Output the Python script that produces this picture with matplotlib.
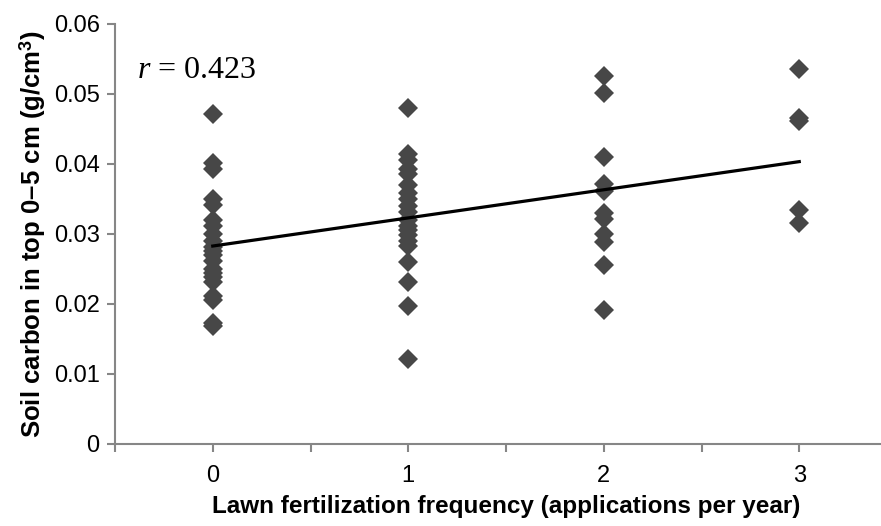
import numpy as np
import matplotlib
matplotlib.use("Agg")
import matplotlib.pyplot as plt

# soil carbon (g/cm3) by fertilization frequency
carbon_0 = [0.0472, 0.0401, 0.0393, 0.0350, 0.0342, 0.0320, 0.0312, 0.0300, 0.0290, 0.0282,
            0.0276, 0.0270, 0.0262, 0.0250, 0.0245, 0.0238, 0.0232, 0.0212, 0.0206, 0.0173, 0.0168]
carbon_1 = [0.0480, 0.0414, 0.0405, 0.0393, 0.0385, 0.0370, 0.0358, 0.0350, 0.0340, 0.0332,
            0.0320, 0.0312, 0.0305, 0.0298, 0.0290, 0.0283, 0.0260, 0.0232, 0.0197, 0.0122]
carbon_2 = [0.0525, 0.0502, 0.0410, 0.0372, 0.0362, 0.0330, 0.0322, 0.0300, 0.0288, 0.0256, 0.0191]
carbon_3 = [0.0535, 0.0466, 0.0462, 0.0334, 0.0316]
frequency = [0, 1, 2, 3]
r_value = 0.423

groups = [carbon_0, carbon_1, carbon_2, carbon_3]
x = np.concatenate([[f] * len(g) for f, g in zip(frequency, groups)])
y = np.concatenate(groups)

plt.rcParams['font.family'] = ['Liberation Sans', 'DejaVu Sans']
plt.rcParams['mathtext.fontset'] = 'custom'
plt.rcParams['mathtext.it'] = 'Liberation Serif:italic'
plt.rcParams['mathtext.rm'] = 'Liberation Serif'

fig = plt.figure(figsize=(8.81, 5.26), dpi=100)
ax = fig.add_axes([115 / 881, 82 / 526, 782 / 881, 420 / 526])

ax.plot(x, y, 'D', color='#474747', markersize=9.8, markeredgewidth=0, zorder=2)

# linear trendline
slope, intercept = np.polyfit(x, y, 1)
xs = np.array([0, 3])
ax.plot(xs, intercept + slope * xs, color='black', linewidth=2.3, zorder=3)

ax.set_xlim(-0.5, 3.5)
ax.set_ylim(0, 0.06)
ax.set_xticks(np.arange(-0.5, 3.6, 0.5))
ax.set_xticklabels(['' if t % 1 else str(int(t)) for t in np.arange(-0.5, 3.6, 0.5)])
ax.set_yticks(np.arange(0, 0.061, 0.01))
ax.set_yticklabels(['0', '0.01', '0.02', '0.03', '0.04', '0.05', '0.06'])

for side in ['top', 'right']:
    ax.spines[side].set_visible(False)
for side in ['left', 'bottom']:
    ax.spines[side].set_color('#868686')
    ax.spines[side].set_linewidth(1.5)
ax.tick_params(axis='both', colors='#868686', width=1.5, length=6, labelsize=17,
               labelcolor='black', direction='out')
ax.tick_params(axis='x', pad=9)
ax.tick_params(axis='y', pad=5)

ax.set_xlabel('Lawn fertilization frequency (applications per year)', fontsize=17.5,
              fontweight='bold', labelpad=6)
ax.set_ylabel('Soil carbon in top 0–5 cm (g/cm$^\\mathregular{3}$)', fontsize=18.5,
              fontweight='bold', labelpad=4)

ax.text(0.028, 0.89, '$r$ = ' + str(r_value), transform=ax.transAxes, fontsize=23,
        family='Liberation Serif', va='center')

fig.savefig('out.png', dpi=100)
